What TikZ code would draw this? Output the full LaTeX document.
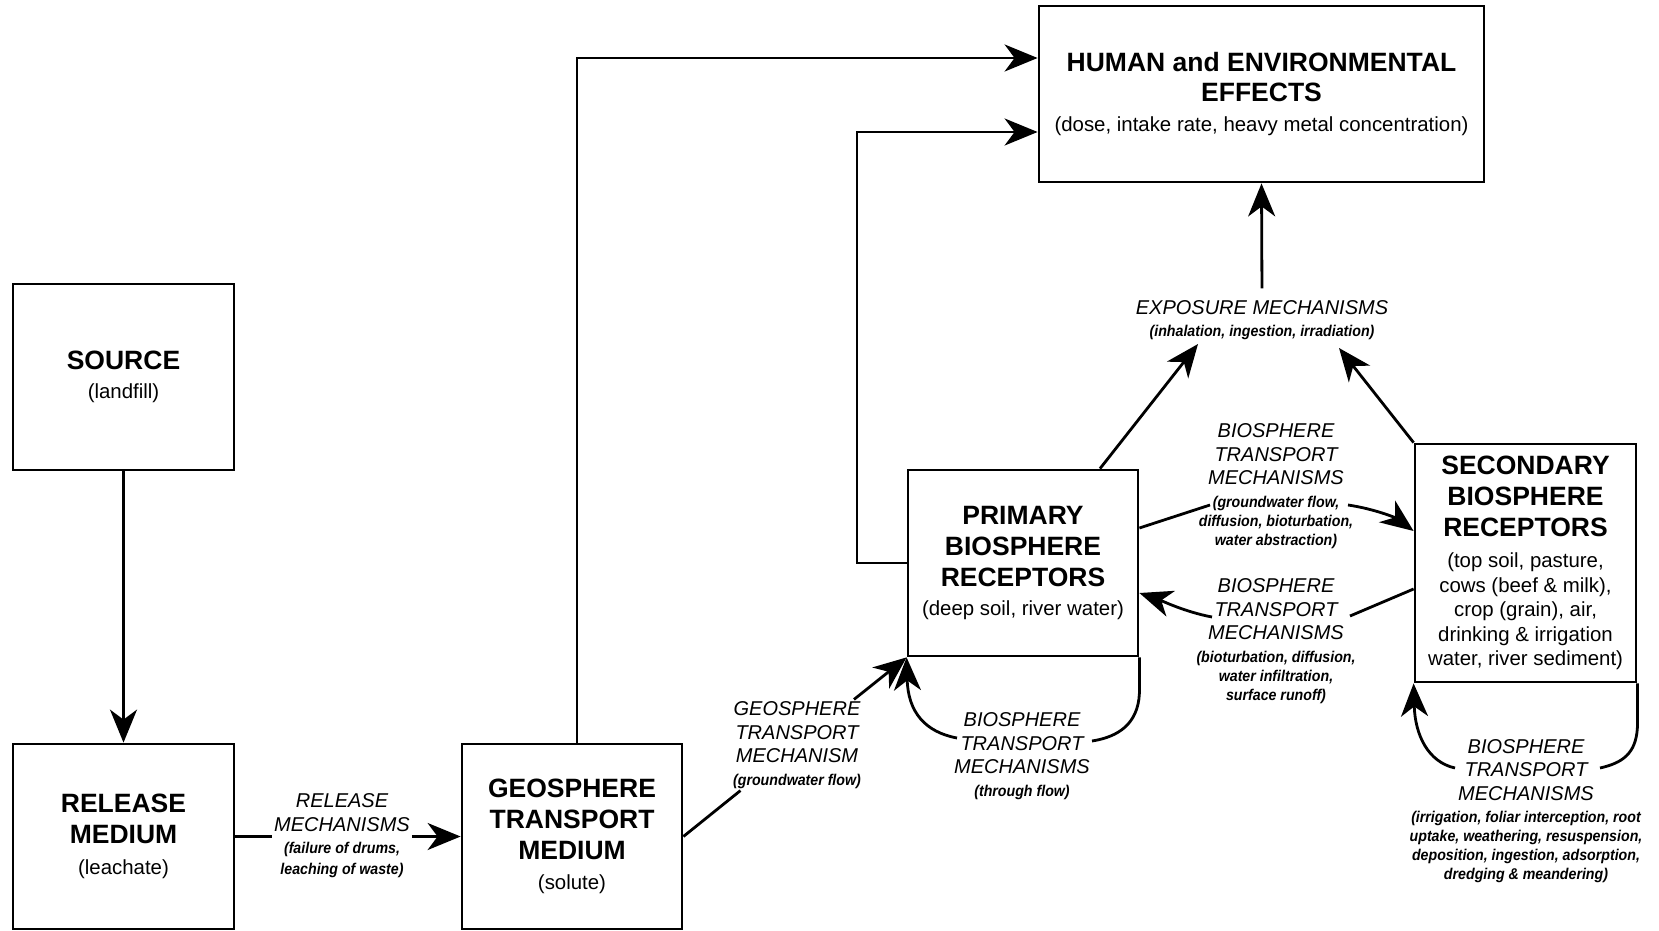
\documentclass[tikz,border=0pt]{standalone}
\usepackage{fontspec}
\setmainfont{Liberation Sans}
\newfontfamily\condfont[FakeStretch=0.91]{Liberation Sans}
\usetikzlibrary{arrows.meta,calc}

\newcommand\boxbold{\fontsize{26.5}{31}\selectfont\bfseries}
\newcommand\boxnorm{\fontsize{20.4}{24.5}\selectfont}
\newcommand\labcap{\fontsize{20}{23.5}\selectfont\itshape}
\newcommand\labsmall{\condfont\fontsize{15.6}{19}\selectfont\bfseries\itshape}

\tikzset{
 box/.style={draw, line width=2.8pt, rectangle, inner sep=0pt, align=center, font=\boxnorm},
 lab/.style={align=center, inner sep=2pt, font=\labcap},
 conn/.style={line width=2.8pt},
 arr/.style={line width=2.8pt, -{Stealth[length=33pt,width=27pt,inset=10pt]}},
}

\begin{document}
\begin{tikzpicture}[x=1pt,y=-1pt]
\useasboundingbox (0,0) rectangle (1659,931);

% boxes
\node[box, minimum width=221pt, minimum height=186pt] (src) at (123.5,377)
  {{\boxbold SOURCE}\\[4.5pt](landfill)};
\node[box, minimum width=221pt, minimum height=185pt] (rel) at (123.5,836.5)
  {{\boxbold RELEASE}\\[6.5pt]{\boxbold MEDIUM}\\[6.5pt](leachate)};
\node[box, minimum width=220pt, minimum height=185pt] (geo) at (572,836.5)
  {{\boxbold GEOSPHERE}\\[6.5pt]{\boxbold TRANSPORT}\\[6.5pt]{\boxbold MEDIUM}\\[5.5pt](solute)};
\node[box, minimum width=445pt, minimum height=176pt] (hum) at (1261.5,94)
  {\\[-6pt]{\boxbold HUMAN and ENVIRONMENTAL}\\[5.5pt]{\boxbold EFFECTS}\\[5.5pt](dose, intake rate, heavy metal concentration)};
\node[box, minimum width=230pt, minimum height=186pt] (prim) at (1023,563)
  {{\boxbold PRIMARY}\\[6.5pt]{\boxbold BIOSPHERE}\\[6.5pt]{\boxbold RECEPTORS}\\[4.5pt](deep soil, river water)};
\node[box, minimum width=221pt, minimum height=238pt] (sec) at (1525.5,563)
  {{\boxbold SECONDARY}\\[6.5pt]{\boxbold BIOSPHERE}\\[6.5pt]{\boxbold RECEPTORS}\\[6.5pt](top soil, pasture,\\cows (beef \& milk),\\crop (grain), air,\\drinking \& irrigation\\water, river sediment)};

% labels
\node[lab] (rm) at (342,836)
  {RELEASE\\MECHANISMS\\[-1pt]{\labsmall (failure of drums,}\\[-2.5pt]{\labsmall leaching of waste)}};
\node[lab] (gl) at (797,745)
  {GEOSPHERE\\TRANSPORT\\MECHANISM\\[-1pt]{\labsmall (groundwater flow)}};
\node[lab] (tl) at (1022,756)
  {BIOSPHERE\\TRANSPORT\\MECHANISMS\\[-1pt]{\labsmall (through flow)}};
\node[lab] (el) at (1262,320)
  {EXPOSURE MECHANISMS\\[-2pt]{\labsmall (inhalation, ingestion, irradiation)}};
\node[lab] (bu) at (1276,486)
  {BIOSPHERE\\TRANSPORT\\MECHANISMS\\[-1pt]{\labsmall (groundwater flow,}\\[-4.5pt]{\labsmall diffusion, bioturbation,}\\[-4.5pt]{\labsmall water abstraction)}};
\node[lab] (bl) at (1276,641)
  {BIOSPHERE\\TRANSPORT\\MECHANISMS\\[-1pt]{\labsmall (bioturbation, diffusion,}\\[-4.5pt]{\labsmall water infiltration,}\\[-4.5pt]{\labsmall surface runoff)}};
\node[lab] (sl) at (1526,811)
  {BIOSPHERE\\TRANSPORT\\MECHANISMS\\[-1pt]{\labsmall (irrigation, foliar interception, root}\\[-4.5pt]{\labsmall uptake, weathering, resuspension,}\\[-4.5pt]{\labsmall deposition, ingestion, adsorption,}\\[-4.5pt]{\labsmall dredging \& meandering)}};

% helper coordinates
\coordinate (c1) at (577,58);
\coordinate (c2) at (857,132);
\coordinate (e1) at (1198,344);
\coordinate (e2) at (1339,348);
\coordinate (bu1) at (1210,505);
\coordinate (bu2) at (1348,505);
\coordinate (bl1) at (1212,617);
\coordinate (bl2) at (1350,616);
\coordinate (tl1) at (1092,741);
\coordinate (tl2) at (957,738);
\coordinate (sl1) at (1600,768);
\coordinate (sl2) at (1455,768);

% connectors
\draw[arr] (src.south) -- (rel.north);
\draw[conn] (rel.east) -- (rm.west |- rel.east);
\draw[arr] (rm.east |- rel.east) -- (geo.west |- rel.east);
\draw[arr] (geo.north -| c1) |- (hum.west |- c1);
\draw[arr] (prim.west) -| (c2) -- (hum.west |- c2);
\draw[conn] (geo.east) -- (gl);
\draw[arr] (gl) -- (prim.south west);
\draw[conn] (prim.south east) -- ++(0,36) .. controls (1138,724) and (1118,737) .. (tl1);
\draw[arr] (tl2) .. controls (925,732) and (908,712) .. (prim.south west);
\draw[arr] (prim.north -| 1100,0) -- (e1);
\draw[arr] (sec.north west) -- (e2);
\draw[arr, shorten <=10pt] (el.north) -- (hum.south);
\draw[conn] (prim.east |- 0,528) -- (bu1);
\draw[arr] (bu2) .. controls (1375,509) and (1396,518) .. (sec.west |- 0,531);
\draw[conn] (sec.west |- 0,589) -- (bl2);
\draw[arr] (bl1) .. controls (1185,612) and (1160,600) .. (prim.east |- 0,593);
\draw[conn] (sec.south east) -- ++(0,44) .. controls (1636,754) and (1622,763) .. (sl1);
\draw[arr] (sl2) .. controls (1428,762) and (1415,735) .. (sec.south west);
\end{tikzpicture}
\end{document}
